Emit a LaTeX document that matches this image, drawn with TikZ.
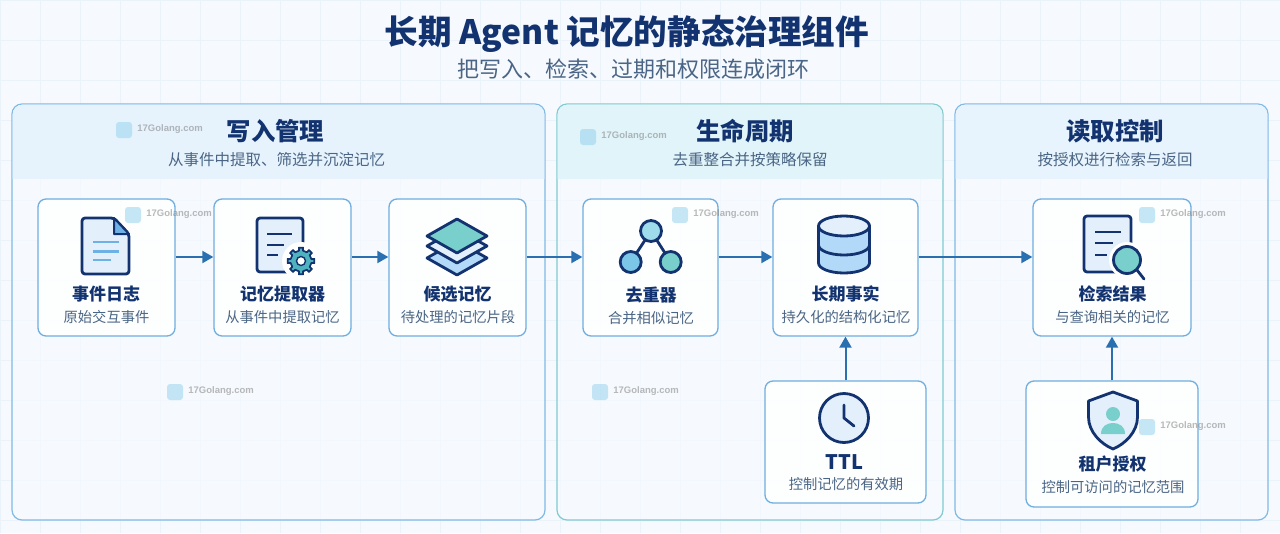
\documentclass[tikz,border=0pt]{standalone}
\usepackage{xcolor}
\usepackage{fontspec}
\setmainfont{Noto Sans CJK SC}
\newfontfamily\markfont{Liberation Sans}
\usetikzlibrary{arrows.meta,positioning}
\definecolor{pageBg}{HTML}{F6FAFE}
\definecolor{gridLine}{HTML}{EAF2FA}
\definecolor{panelFill}{HTML}{F6FBFF}
\definecolor{navyInk}{HTML}{12336F}
\definecolor{subInk}{HTML}{4A6585}
\definecolor{writeEdge}{HTML}{7FB9E6}
\definecolor{lifeEdge}{HTML}{7FCBCF}
\definecolor{writeHead}{HTML}{E6F3FD}
\definecolor{lifeHead}{HTML}{E1F4F9}
\definecolor{readHead}{HTML}{E7F3FD}
\definecolor{cardEdge}{HTML}{6FAEDF}
\definecolor{flowBlue}{HTML}{2A70B0}
\definecolor{paleFill}{HTML}{E3F0FC}
\definecolor{skyFill}{HTML}{B3D9F8}
\definecolor{tealFill}{HTML}{78CFCB}
\definecolor{gearFill}{HTML}{4FB3BF}
\definecolor{lineBlue}{HTML}{6DB1E5}
\definecolor{nodeTop}{HTML}{9FDCEB}
\definecolor{nodeLeft}{HTML}{7CC6E8}
\definecolor{markBlue}{HTML}{8FD0EC}

\begin{document}
\begin{tikzpicture}[
        x=1pt, y=-1pt,
        panel/.style={draw, rounded corners=10pt, line width=1.2pt, fill=panelFill, fill opacity=0.6, text opacity=1},
        card/.style={draw=cardEdge, rounded corners=8pt, line width=1.3pt, fill=white, fill opacity=0.85},
        maintitle/.style={font=\fontsize{33.6}{36}\selectfont\bfseries, text=navyInk},
        mainsub/.style={font=\fontsize{22}{24}\selectfont, text=subInk},
        paneltitle/.style={font=\fontsize{24.4}{26}\selectfont\bfseries, text=navyInk},
        panelsub/.style={font=\fontsize{15.5}{18}\selectfont, text=subInk},
        cardtitle/.style={font=\fontsize{17}{20}\selectfont\bfseries, text=navyInk},
        cardsub/.style={font=\fontsize{14.3}{17}\selectfont, text=subInk},
        rel/.style={draw=flowBlue, line width=2pt, -{Triangle[length=11pt,width=12pt]}},
        icon/.style={draw=navyInk, line width=2.8pt, line join=round, line cap=round},
        markicon/.style={rounded corners=3pt, fill=markBlue, fill opacity=0.5, minimum size=16pt, inner sep=0pt},
        marktext/.style={font=\markfont\fontsize{9.5}{12}\selectfont\bfseries, text=gray, text opacity=0.55, inner sep=0pt}
    ]
        \useasboundingbox (0,0) rectangle (1280,533);
        \fill[pageBg] (0,0) rectangle (1280,533);
        \draw[gridLine, line width=0.7pt] (0,0) grid[step=40pt] (1280,533);

        % titles
        \node[maintitle] (title) at (627,33.5) {长期 Agent 记忆的静态治理组件};
        \node[mainsub] (subtitle) at (633,69) {把写入、检索、过期和权限连成闭环};

        % panels
        \node[panel, draw=writeEdge, minimum width=533pt, minimum height=416pt] (write) at (278.5,312) {};
        \node[panel, draw=lifeEdge, minimum width=386pt, minimum height=416pt] (life) at (750,312) {};
        \node[panel, draw=writeEdge, minimum width=313pt, minimum height=416pt] (read) at (1111.5,312) {};
        \fill[writeHead, rounded corners=10pt] (12.6,179) -- (12.6,104.6) -- (544.4,104.6) -- (544.4,179);
        \fill[lifeHead, rounded corners=10pt] (557.6,179) -- (557.6,104.6) -- (942.4,104.6) -- (942.4,179);
        \fill[readHead, rounded corners=10pt] (955.6,179) -- (955.6,104.6) -- (1267.4,104.6) -- (1267.4,179);

        \node[paneltitle] (writetitle) at (275.5,131) {写入管理};
        \node[panelsub] (writesub) at (276.5,160) {从事件中提取、筛选并沉淀记忆};
        \node[paneltitle] (lifetitle) at (745,131) {生命周期};
        \node[panelsub] (lifesub) at (750,160) {去重整合并按策略保留};
        \node[paneltitle] (readtitle) at (1115,131) {读取控制};
        \node[panelsub] (readsub) at (1115,160) {按授权进行检索与返回};

        % cards
        \node[card, minimum width=137pt, minimum height=137pt] (log) at (106.5,267.5) {};
        \node[card, minimum width=137pt, minimum height=137pt] (extractor) at (282.5,267.5) {};
        \node[card, minimum width=137pt, minimum height=137pt] (candidate) at (457.5,267.5) {};
        \node[card, minimum width=135pt, minimum height=137pt] (dedupe) at (650.5,267.5) {};
        \node[card, minimum width=145pt, minimum height=137pt] (fact) at (845.5,267.5) {};
        \node[card, minimum width=158pt, minimum height=137pt] (result) at (1112,267.5) {};
        \node[card, minimum width=161pt, minimum height=122pt] (ttl) at (845.5,442) {};
        \node[card, minimum width=172pt, minimum height=126pt] (auth) at (1112,444) {};

        \node[cardtitle] (logtitle) at (106,294) {事件日志};
        \node[cardsub] (logsub) at (106.5,317) {原始交互事件};
        \node[cardtitle] (extractortitle) at (282.5,294) {记忆提取器};
        \node[cardsub] (extractorsub) at (282.5,317) {从事件中提取记忆};
        \node[cardtitle] (candidatetitle) at (457.5,294) {候选记忆};
        \node[cardsub] (candidatesub) at (458,317) {待处理的记忆片段};
        \node[cardtitle] (dedupetitle) at (651,295) {去重器};
        \node[cardsub] (dedupesub) at (651,318) {合并相似记忆};
        \node[cardtitle] (facttitle) at (845.5,294) {长期事实};
        \node[cardsub] (factsub) at (846,317) {持久化的结构化记忆};
        \node[cardtitle] (resulttitle) at (1112.5,294) {检索结果};
        \node[cardsub] (resultsub) at (1112.5,317) {与查询相关的记忆};
        \node[cardtitle, font=\fontsize{20}{24}\selectfont\bfseries] (ttltitle) at (844.5,462.5) {TTL};
        \node[cardsub] (ttlsub) at (846,484) {控制记忆的有效期};
        \node[cardtitle] (authtitle) at (1112.5,464) {租户授权};
        \node[cardsub] (authsub) at (1113,487) {控制可访问的记忆范围};

        % connectors
        \draw[rel] ([yshift=10.5pt]log.east) -- ([yshift=10.5pt]extractor.west);
        \draw[rel] ([yshift=10.5pt]extractor.east) -- ([yshift=10.5pt]candidate.west);
        \draw[rel] ([yshift=10.5pt]candidate.east) -- ([yshift=10.5pt]dedupe.west);
        \draw[rel] ([yshift=10.5pt]dedupe.east) -- ([yshift=10.5pt]fact.west);
        \draw[rel] ([yshift=10.5pt]fact.east) -- ([yshift=10.5pt]result.west);
        \draw[rel] (ttl.north) -- (fact.south);
        \draw[rel] (auth.north) -- (result.south);

        % log icon
        \draw[icon, fill=paleFill, rounded corners=3pt] (114,218) -- (82,218) -- (82,274) -- (129,274) -- (129,234) -- cycle;
        \draw[icon, fill=lineBlue, line width=2pt] (114,218) -- (114,234) -- (129,234) -- cycle;
        \draw[lineBlue, line width=2.6pt] (93,242) -- (119,242) (93,251.3) -- (119,251.3) (93,260) -- (111,260);

        % extractor icon
        \draw[icon, fill=paleFill, rounded corners=3pt] (257,218) rectangle (303,272);
        \draw[navyInk, line width=2.4pt] (267,234) -- (292,234) (267,245) -- (284,245) (267,255) -- (278,255);
        \fill[white] (301,261) circle (19);
        \draw[icon, line width=1.7pt, fill=gearFill, shift={(301,261)}] (-11:10.5) \foreach \a in {0,45,...,315} { -- (\a-11:10.5) -- (\a-9:13.5) -- (\a+9:13.5) -- (\a+11:10.5) } -- cycle;
        \draw[navyInk, line width=1.4pt, fill=white] (301,261) circle (4.5);

        % candidate icon
        \draw[icon, fill=skyFill] (427,258) -- (457,241) -- (487,258) -- (457,275) -- cycle;
        \draw[icon, fill=paleFill] (427,246) -- (457,229) -- (487,246) -- (457,263) -- cycle;
        \draw[icon, fill=tealFill] (427,236) -- (457,219) -- (487,236) -- (457,253) -- cycle;

        % dedupe icon
        \draw[icon] (651,231) -- (630.7,262) (651,231) -- (670.7,262);
        \draw[icon, fill=nodeTop] (651,231) circle (10.5);
        \draw[icon, fill=nodeLeft] (630.7,262) circle (10.5);
        \draw[icon, fill=tealFill] (670.7,262) circle (10.5);

        % fact icon
        \draw[icon, fill=skyFill] (818.5,226) -- (818.5,263) arc[start angle=180, end angle=0, x radius=25.5, y radius=10] -- (869.5,226) -- cycle;
        \draw[icon] (818.5,245) arc[start angle=180, end angle=0, x radius=25.5, y radius=10];
        \draw[icon, fill=paleFill] (844,226) ellipse[x radius=25.5, y radius=10];

        % result icon
        \draw[icon, fill=paleFill, rounded corners=3pt] (1084,216) rectangle (1131,272);
        \draw[navyInk, line width=2.4pt] (1095,232) -- (1121,232) (1095,243) -- (1113,243) (1095,255) -- (1107,255);
        \fill[white] (1127,260) circle (18);
        \draw[icon] (1137,270) -- (1144,279);
        \draw[icon, fill=tealFill] (1127,260) circle (13.5);

        % ttl icon
        \draw[icon, fill=paleFill] (844,418) circle (24.5);
        \draw[icon] (844,405) -- (844,418) -- (854,426);

        % auth icon
        \draw[icon, fill=paleFill] (1113,392) -- (1137.5,401) -- (1137.5,417) .. controls (1137.5,432) and (1125,444) .. (1113,449) .. controls (1101,444) and (1088.5,432) .. (1088.5,417) -- (1088.5,401) -- cycle;
        \fill[tealFill] (1113,414) circle (7);
        \fill[tealFill] (1101,434) .. controls (1101,426) and (1107,423) .. (1113,423) .. controls (1119,423) and (1125,426) .. (1125,434) -- cycle;

        % site marks
        \foreach \wname/\wx/\wy in {a/124/130, b/133/215, c/588/137, d/680/215, e/600/392, f/1147/215, g/1147/427, h/175/392}{
            \node[markicon] (mark\wname) at (\wx,\wy) {};
            \node[marktext, right=5pt of mark\wname, yshift=1pt] (marklabel\wname) {17Golang.com};
        }
    \end{tikzpicture}
\end{document}
